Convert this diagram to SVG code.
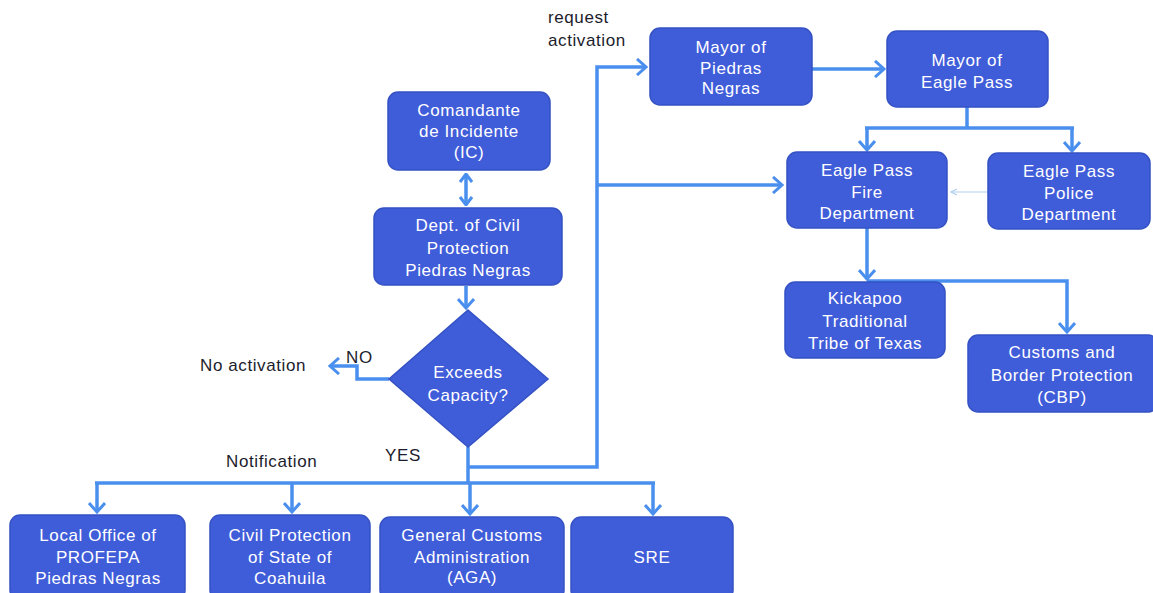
<svg xmlns="http://www.w3.org/2000/svg" width="1153" height="593" viewBox="0 0 1153 593">
<style>
.n{fill:#3f5cd9;stroke:#3552c4;stroke-width:1.5}
.t{font-family:"Liberation Sans",Arial,sans-serif;font-size:17px;fill:#ffffff;text-anchor:middle;letter-spacing:0.6px}
.l{font-family:"Liberation Sans",Arial,sans-serif;font-size:17px;fill:#1c1c2c;letter-spacing:0.6px}
.c{fill:none;stroke:#4a8fee;stroke-width:3.5;stroke-linejoin:miter}
.f{fill:none;stroke:#b4d0f2;stroke-width:1.2}
</style>
<defs>
<marker id="a" markerUnits="userSpaceOnUse" viewBox="0 0 12 18" markerWidth="12" markerHeight="18" refX="10" refY="9" orient="auto">
<path d="M1,1 L10,9 L1,17" fill="none" stroke="#4a8fee" stroke-width="3"/>
</marker>
<marker id="s" markerUnits="userSpaceOnUse" viewBox="0 0 10 14" markerWidth="10" markerHeight="14" refX="9" refY="7" orient="auto-start-reverse">
<path d="M1,1 L9,7 L1,13" fill="none" stroke="#4a8fee" stroke-width="3"/>
</marker>
<marker id="p" markerUnits="userSpaceOnUse" viewBox="0 0 8 8" markerWidth="8" markerHeight="8" refX="7" refY="4" orient="auto">
<path d="M1,1 L7,4 L1,7" fill="none" stroke="#b4d0f2" stroke-width="1.2"/>
</marker>
</defs>
<g id="connectors">
<line class="c" x1="466" y1="174" x2="466" y2="205" marker-start="url(#s)" marker-end="url(#s)"/>
<line class="c" x1="466" y1="286" x2="466" y2="308" marker-end="url(#a)"/>
<polyline class="c" points="389,379 357,379 357,366 330,366" marker-end="url(#a)"/>
<line class="c" x1="468" y1="447" x2="468" y2="483"/>
<line class="c" x1="95" y1="483" x2="655" y2="483"/>
<line class="c" x1="97" y1="483" x2="97" y2="512" marker-end="url(#a)"/>
<line class="c" x1="292" y1="483" x2="292" y2="512" marker-end="url(#a)"/>
<line class="c" x1="470" y1="483" x2="470" y2="514" marker-end="url(#a)"/>
<line class="c" x1="653" y1="483" x2="653" y2="514" marker-end="url(#a)"/>
<polyline class="c" points="468,467 597,467 597,67 646,67" marker-end="url(#a)"/>
<line class="c" x1="597" y1="185" x2="782" y2="185" marker-end="url(#a)"/>
<line class="c" x1="812" y1="69" x2="884" y2="69" marker-end="url(#a)"/>
<line class="c" x1="967" y1="107" x2="967" y2="128"/>
<line class="c" x1="865" y1="128" x2="1074" y2="128"/>
<line class="c" x1="867" y1="128" x2="867" y2="150" marker-end="url(#a)"/>
<line class="c" x1="1072" y1="128" x2="1072" y2="151" marker-end="url(#a)"/>
<line class="f" x1="988" y1="192" x2="951" y2="192" marker-end="url(#p)"/>
<line class="c" x1="867" y1="228" x2="867" y2="279" marker-end="url(#a)"/>
<polyline class="c" points="867,281 1067,281 1067,332" marker-end="url(#a)"/>
</g>
<g id="labels">
<text class="l" x="548" y="23">request</text>
<text class="l" x="548" y="46">activation</text>
<text class="l" x="200" y="371">No activation</text>
<text class="l" x="346" y="363">NO</text>
<text class="l" x="385" y="461">YES</text>
<text class="l" x="226" y="467">Notification</text>
</g>
<g id="comandante">
<rect class="n" x="388" y="92" width="162" height="78" rx="10"/>
<text class="t" x="469" y="116">Comandante</text>
<text class="t" x="469" y="137">de Incidente</text>
<text class="t" x="469" y="158">(IC)</text>
</g>
<g id="dept-civil">
<rect class="n" x="374" y="208" width="188" height="77" rx="10"/>
<text class="t" x="468" y="231">Dept. of Civil</text>
<text class="t" x="468" y="254">Protection</text>
<text class="t" x="468" y="276">Piedras Negras</text>
</g>
<g id="exceeds">
<polygon class="n" points="468,310 548,379 468,447 389,379"/>
<text class="t" x="468" y="378">Exceeds</text>
<text class="t" x="468" y="401">Capacity?</text>
</g>
<g id="profepa">
<rect class="n" x="10" y="515" width="175" height="85" rx="10"/>
<text class="t" x="98" y="541">Local Office of</text>
<text class="t" x="98" y="563">PROFEPA</text>
<text class="t" x="98" y="584">Piedras Negras</text>
</g>
<g id="coahuila">
<rect class="n" x="210" y="515" width="160" height="85" rx="10"/>
<text class="t" x="290" y="541">Civil Protection</text>
<text class="t" x="290" y="563">of State of</text>
<text class="t" x="290" y="584">Coahuila</text>
</g>
<g id="aga">
<rect class="n" x="380" y="517" width="184" height="83" rx="10"/>
<text class="t" x="472" y="541">General Customs</text>
<text class="t" x="472" y="563">Administration</text>
<text class="t" x="472" y="583">(AGA)</text>
</g>
<g id="sre">
<rect class="n" x="571" y="517" width="162" height="83" rx="10"/>
<text class="t" x="652" y="563">SRE</text>
</g>
<g id="mayor-pn">
<rect class="n" x="650" y="28" width="162" height="77" rx="10"/>
<text class="t" x="731" y="53">Mayor of</text>
<text class="t" x="731" y="74">Piedras</text>
<text class="t" x="731" y="94">Negras</text>
</g>
<g id="mayor-ep">
<rect class="n" x="887" y="31" width="161" height="76" rx="10"/>
<text class="t" x="967" y="66">Mayor of</text>
<text class="t" x="967" y="88">Eagle Pass</text>
</g>
<g id="fire">
<rect class="n" x="787" y="152" width="160" height="76" rx="10"/>
<text class="t" x="867" y="176">Eagle Pass</text>
<text class="t" x="867" y="198">Fire</text>
<text class="t" x="867" y="219">Department</text>
</g>
<g id="police">
<rect class="n" x="988" y="153" width="162" height="76" rx="10"/>
<text class="t" x="1069" y="177">Eagle Pass</text>
<text class="t" x="1069" y="199">Police</text>
<text class="t" x="1069" y="220">Department</text>
</g>
<g id="kickapoo">
<rect class="n" x="785" y="282" width="160" height="76" rx="10"/>
<text class="t" x="865" y="304">Kickapoo</text>
<text class="t" x="865" y="327">Traditional</text>
<text class="t" x="865" y="349">Tribe of Texas</text>
</g>
<g id="cbp">
<rect class="n" x="968" y="335" width="190" height="77" rx="10"/>
<text class="t" x="1062" y="358">Customs and</text>
<text class="t" x="1062" y="381">Border Protection</text>
<text class="t" x="1062" y="403">(CBP)</text>
</g>
</svg>
